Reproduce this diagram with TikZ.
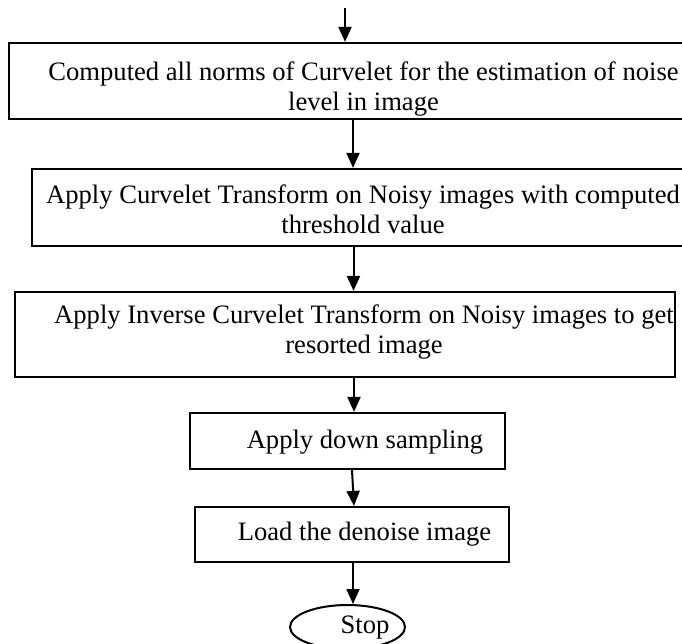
\documentclass[tikz,border=0pt]{standalone}
\usepackage{fontspec}
\setmainfont{Liberation Serif}
\usetikzlibrary{arrows.meta,shapes.geometric}

\tikzset{
  stepbox/.style={draw, line width=2.2pt, inner sep=0pt, rectangle},
  endbox/.style={draw, line width=2pt, inner sep=0pt, ellipse},
  label/.style={anchor=base, inner sep=0pt, align=center,
    font=\fontsize{26.6}{29.5}\selectfont},
  arr/.style={line width=2pt, -{Triangle[length=15pt,width=13pt]}}
}

\begin{document}
\begin{tikzpicture}[x=1pt, y=-1pt]
  \clip (0,0) rectangle (682,643);
  \fill[white] (0,0) rectangle (682,643);

  % process boxes
  \node[stepbox, minimum width=709pt, minimum height=76pt] (b1) at (363.5,81) {};
  \node[stepbox, minimum width=662pt, minimum height=77pt] (b2) at (363,207.5) {};
  \node[stepbox, minimum width=660pt, minimum height=85pt] (b3) at (345,334.5) {};
  \node[stepbox, minimum width=315pt, minimum height=56pt] (b4) at (347.5,441) {};
  \node[stepbox, minimum width=314pt, minimum height=55pt] (b5) at (352,534.5) {};
  \node[endbox, minimum width=115pt, minimum height=44pt] (stop) at (347.5,627) {};

  % box texts (base anchor sits on the last line)
  \node[label] (t1) at (363.5,110) {Computed all norms of Curvelet for the estimation of noise\\level in image};
  \node[label] (t2) at (363,233) {Apply Curvelet Transform on Noisy images with computed\\threshold value};
  \node[label] (t3) at (364,353) {Apply Inverse Curvelet Transform on Noisy images to get\\resorted image};
  \node[label] (t4) at (365,448) {Apply down sampling};
  \node[label] (t5) at (364.5,540) {Load the denoise image};
  \node[label] (t6) at (365,633) {Stop};

  % connector positions
  \coordinate (in) at (345,8);
  \coordinate (x1) at (353,0);
  \coordinate (x2) at (353.5,0);
  \coordinate (x3) at (354,0);
  \coordinate (x4a) at (352,0);
  \coordinate (x4b) at (354,0);
  \coordinate (x5) at (353,0);

  % connectors
  \draw[arr] (in) -- (in |- b1.north);
  \draw[arr] (b1.south -| x1) -- (b2.north -| x1);
  \draw[arr] (b2.south -| x2) -- (b3.north -| x2);
  \draw[arr] (b3.south -| x3) -- (b4.north -| x3);
  \draw[arr] (b4.south -| x4a) -- (b5.north -| x4b);
  \draw[arr] (b5.south -| x5) -- (stop.north -| x5);
\end{tikzpicture}
\end{document}
